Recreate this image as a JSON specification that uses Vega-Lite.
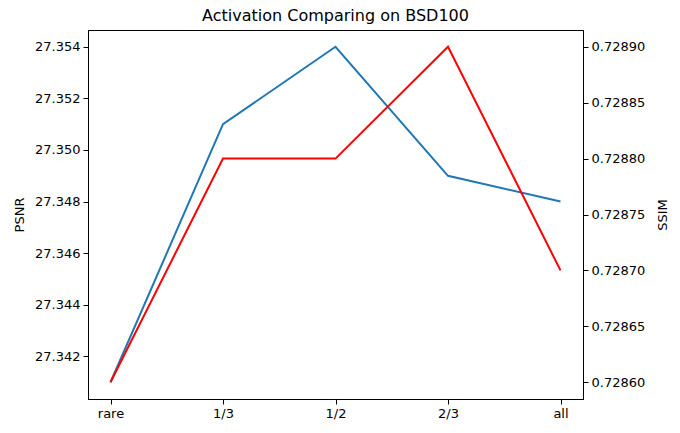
{
  "$schema": "https://vega.github.io/schema/vega-lite/v6.json",
  "width": 495,
  "height": 369,
  "autosize": {"type": "none"},
  "padding": {"left": 88, "top": 30, "right": 97, "bottom": 34},
  "background": "white",
  "title": {"text": "Activation Comparing on BSD100", "font": "DejaVu Sans", "fontSize": 16, "fontWeight": "normal", "color": "black", "offset": 6},
  "config": {
    "view": {"stroke": "black", "strokeWidth": 1},
    "axis": {"labelFont": "DejaVu Sans", "labelFontSize": 13, "labelColor": "black", "titleFont": "DejaVu Sans", "titleFontSize": 13, "titleFontWeight": "normal", "titleColor": "black", "domainColor": "black", "tickColor": "black", "tickSize": 5, "grid": false, "labelPadding": 3}
  },
  "data": {"values": [
    {"x": "rare", "psnr": 27.341, "ssim": 0.7286},
    {"x": "1/3", "psnr": 27.351, "ssim": 0.7288},
    {"x": "1/2", "psnr": 27.354, "ssim": 0.7288},
    {"x": "2/3", "psnr": 27.349, "ssim": 0.7289},
    {"x": "all", "psnr": 27.348, "ssim": 0.7287}
  ]},
  "encoding": {
    "x": {"field": "x", "type": "ordinal", "sort": null, "scale": {"type": "point", "padding": 0.2}, "axis": {"title": null, "labelAngle": 0}}
  },
  "layer": [
    {
      "mark": {"type": "line", "color": "#1f77b4", "strokeWidth": 2},
      "encoding": {
        "y": {"field": "psnr", "type": "quantitative", "scale": {"domain": [27.34035, 27.35465], "nice": false, "zero": false}, "axis": {"title": "PSNR", "values": [27.342, 27.344, 27.346, 27.348, 27.35, 27.352, 27.354], "format": ".3f", "titlePadding": 8}}
      }
    },
    {
      "mark": {"type": "line", "color": "red", "strokeWidth": 2},
      "encoding": {
        "y": {"field": "ssim", "type": "quantitative", "scale": {"domain": [0.728585, 0.728915], "nice": false, "zero": false}, "axis": {"orient": "right", "title": "SSIM", "titleAngle": 270, "titleBaseline": "bottom", "values": [0.7286, 0.72865, 0.7287, 0.72875, 0.7288, 0.72885, 0.7289], "format": ".5f", "titlePadding": 25}}
      }
    }
  ],
  "resolve": {"scale": {"y": "independent"}}
}
